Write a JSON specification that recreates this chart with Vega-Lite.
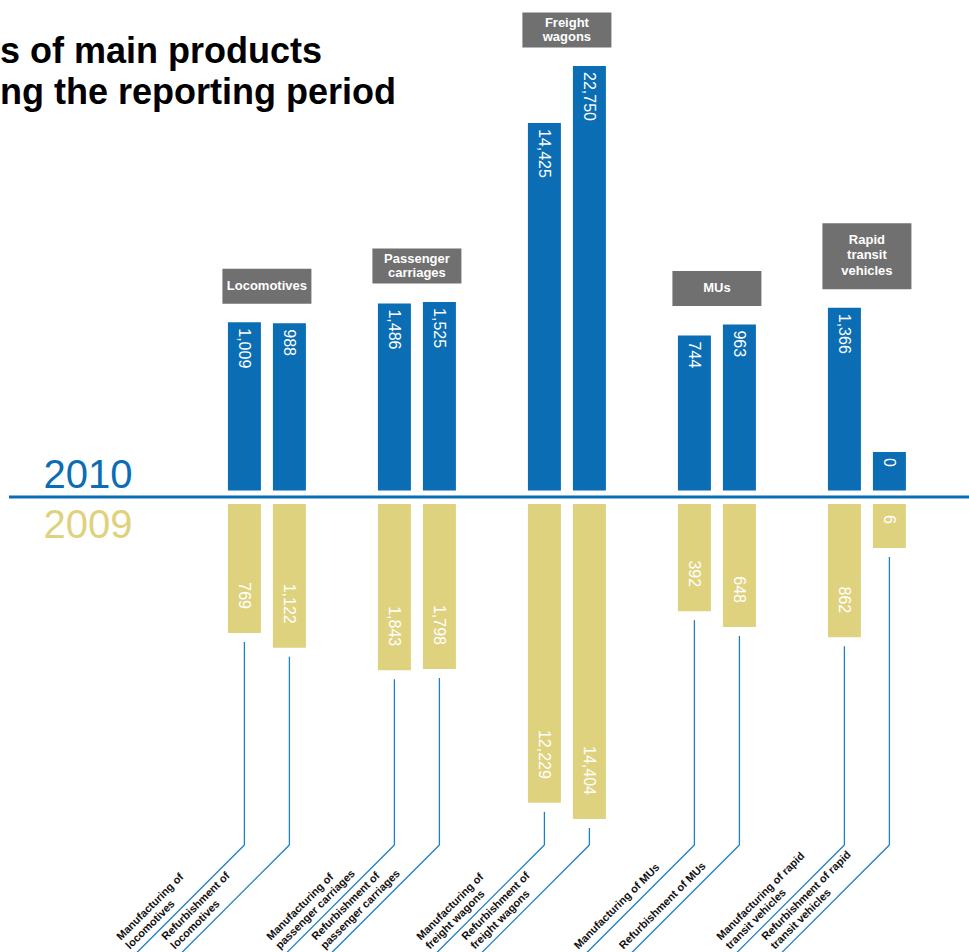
{
  "$schema": "https://vega.github.io/schema/vega-lite/v6.json",
  "autosize": {"type": "pad"},
  "padding": {"left": 0, "top": 12, "right": 0, "bottom": 0},
  "background": "white",
  "config": {"view": {"stroke": null}, "font": "Liberation Sans", "axis": {"grid": false}},
  "title": {
    "text": ["s of main products", "ng the reporting period"],
    "anchor": "start", "frame": "group", "fontSize": 36, "fontWeight": "bold",
    "color": "#000000", "dx": -9, "dy": 103, "lineHeight": 41, "font": "Liberation Sans"
  },
  "datasets": {
    "rows": [
      {"group": "Locomotives", "type": "Manufacturing", "v2010": 1009, "v2009": 769, "label": ["Manufacturing of", "locomotives"], "groupLabel": ["Locomotives"]},
      {"group": "Locomotives", "type": "Refurbishment", "v2010": 988, "v2009": 1122, "label": ["Refurbishment of", "locomotives"], "groupLabel": ["Locomotives"]},
      {"group": "Passenger carriages", "type": "Manufacturing", "v2010": 1486, "v2009": 1843, "label": ["Manufacturing of", "passenger carriages"], "groupLabel": ["Passenger", "carriages"]},
      {"group": "Passenger carriages", "type": "Refurbishment", "v2010": 1525, "v2009": 1798, "label": ["Refurbishment of", "passenger carriages"], "groupLabel": ["Passenger", "carriages"]},
      {"group": "Freight wagons", "type": "Manufacturing", "v2010": 14425, "v2009": 12229, "label": ["Manufacturing of", "freight wagons"], "groupLabel": ["Freight", "wagons"]},
      {"group": "Freight wagons", "type": "Refurbishment", "v2010": 22750, "v2009": 14404, "label": ["Refurbishment of", "freight wagons"], "groupLabel": ["Freight", "wagons"]},
      {"group": "MUs", "type": "Manufacturing", "v2010": 744, "v2009": 392, "label": ["Manufacturing of MUs"], "groupLabel": ["MUs"]},
      {"group": "MUs", "type": "Refurbishment", "v2010": 963, "v2009": 648, "label": ["Refurbishment of MUs"], "groupLabel": ["MUs"]},
      {"group": "Rapid transit vehicles", "type": "Manufacturing", "v2010": 1366, "v2009": 862, "label": ["Manufacturing of rapid", "transit vehicles"], "groupLabel": ["Rapid", "transit", "vehicles"]},
      {"group": "Rapid transit vehicles", "type": "Refurbishment", "v2010": 0, "v2009": 6, "label": ["Refurbishment of rapid", "transit vehicles"], "groupLabel": ["Rapid", "transit", "vehicles"]}
    ]
  },
  "spacing": 77,
  "bounds": "flush",
  "resolve": {"scale": {"x": "independent", "xOffset": "independent", "y": "independent"}},
  "vconcat": [
    {
      "width": 960,
      "height": 386,
      "data": {"name": "rows"},
      "layer": [
        {
          "mark": {"type": "bar", "color": "#0b6db4", "y2Offset": 38.5},
          "encoding": {
            "x": {"field": "group", "type": "nominal", "sort": ["Locomotives", "Passenger carriages", "Freight wagons", "MUs", "Rapid transit vehicles"], "scale": {"paddingInner": 0, "paddingOuter": 0.7, "align": 0.871}, "axis": null},
            "xOffset": {"field": "type", "type": "nominal", "sort": ["Manufacturing", "Refurbishment"], "scale": {"paddingInner": 0.2667, "paddingOuter": 0.8}},
            "y": {"field": "v2010", "type": "quantitative", "scale": {"type": "pow", "exponent": 0.35, "domain": [0, 22750], "nice": false},
              "axis": {"title": "2010", "domain": false, "ticks": false, "labels": false, "grid": false, "titleAngle": 0, "titleAlign": "left", "titleBaseline": "alphabetic", "titleX": 34, "titleY": 421, "titleFontSize": 40, "titleFontWeight": "normal", "titleColor": "#0b6db4", "titleFont": "Liberation Sans"}},
            "y2": {"datum": 0}
          }
        },
        {
          "mark": {"type": "text", "angle": 90, "align": "left", "baseline": "middle", "dx": 6, "color": "white", "fontSize": 16},
          "encoding": {
            "x": {"field": "group", "type": "nominal", "sort": ["Locomotives", "Passenger carriages", "Freight wagons", "MUs", "Rapid transit vehicles"]},
            "xOffset": {"field": "type", "type": "nominal", "sort": ["Manufacturing", "Refurbishment"]},
            "y": {"field": "v2010", "type": "quantitative"},
            "text": {"field": "v2010", "type": "quantitative", "format": ",d"}
          }
        },
        {
          "transform": [
            {"joinaggregate": [{"op": "max", "field": "v2010", "as": "gmax"}], "groupby": ["group"]},
            {"filter": "datum.type === 'Manufacturing'"},
            {"calculate": "length(datum.groupLabel)", "as": "nl"}
          ],
          "encoding": {
            "x": {"field": "group", "type": "nominal", "sort": ["Locomotives", "Passenger carriages", "Freight wagons", "MUs", "Rapid transit vehicles"]},
            "y": {"field": "gmax", "type": "quantitative"}
          },
          "layer": [
            {"transform": [{"filter": "datum.nl < 3"}], "mark": {"type": "bar", "color": "#707070", "width": 89, "yOffset": -53.5, "y2Offset": -18.5}, "encoding": {"y2": {"field": "gmax"}}},
            {"transform": [{"filter": "datum.nl >= 3"}], "mark": {"type": "bar", "color": "#707070", "width": 89, "yOffset": -84.5, "y2Offset": -18.5}, "encoding": {"y2": {"field": "gmax"}}},
            {"transform": [{"filter": "datum.nl == 1"}], "mark": {"type": "text", "color": "white", "fontWeight": "bold", "fontSize": 13, "lineHeight": 15, "baseline": "middle", "yOffset": -36}, "encoding": {"text": {"field": "groupLabel"}}},
            {"transform": [{"filter": "datum.nl == 2"}], "mark": {"type": "text", "color": "white", "fontWeight": "bold", "fontSize": 13, "lineHeight": 14.5, "baseline": "middle", "yOffset": -43.5}, "encoding": {"text": {"field": "groupLabel"}}},
            {"transform": [{"filter": "datum.nl == 3"}], "mark": {"type": "text", "color": "white", "fontWeight": "bold", "fontSize": 13, "lineHeight": 15.5, "baseline": "middle", "yOffset": -68}, "encoding": {"text": {"field": "groupLabel"}}}
          ]
        }
      ]
    },
    {
      "width": 960,
      "height": 290,
      "data": {"name": "rows"},
      "layer": [
        {
          "transform": [{"filter": "datum.group === 'Locomotives' && datum.type === 'Manufacturing'"}],
          "mark": {"type": "rule", "color": "#0b6db4", "strokeWidth": 3, "yOffset": -32},
          "encoding": {"y": {"datum": 0, "type": "quantitative"}}
        },
        {
          "mark": {"type": "bar", "color": "#dfd27f", "y2Offset": -25},
          "encoding": {
            "x": {"field": "group", "type": "nominal", "sort": ["Locomotives", "Passenger carriages", "Freight wagons", "MUs", "Rapid transit vehicles"], "scale": {"paddingInner": 0, "paddingOuter": 0.7, "align": 0.871}, "axis": null},
            "xOffset": {"field": "type", "type": "nominal", "sort": ["Manufacturing", "Refurbishment"], "scale": {"paddingInner": 0.2667, "paddingOuter": 0.8}},
            "y": {"field": "v2009", "type": "quantitative", "scale": {"type": "pow", "exponent": 0.35, "domain": [0, 14404], "nice": false, "reverse": true},
              "axis": {"title": "2009", "domain": false, "ticks": false, "labels": false, "grid": false, "titleAngle": 0, "titleAlign": "left", "titleBaseline": "alphabetic", "titleX": 34, "titleY": 8, "titleFontSize": 40, "titleFontWeight": "normal", "titleColor": "#dfd27f", "titleFont": "Liberation Sans"}},
            "y2": {"datum": 0}
          }
        },
        {
          "mark": {"type": "text", "angle": 90, "align": "right", "baseline": "middle", "dx": -24, "color": "white", "fontSize": 16},
          "encoding": {
            "x": {"field": "group", "type": "nominal", "sort": ["Locomotives", "Passenger carriages", "Freight wagons", "MUs", "Rapid transit vehicles"]},
            "xOffset": {"field": "type", "type": "nominal", "sort": ["Manufacturing", "Refurbishment"]},
            "y": {"field": "v2009", "type": "quantitative"},
            "text": {"field": "v2009", "type": "quantitative", "format": ",d"}
          }
        },
        {
          "mark": {"type": "rule", "color": "#1f7fc4", "strokeWidth": 1.3, "yOffset": 9, "y2Offset": 26},
          "encoding": {
            "x": {"field": "group", "type": "nominal", "sort": ["Locomotives", "Passenger carriages", "Freight wagons", "MUs", "Rapid transit vehicles"]},
            "xOffset": {"field": "type", "type": "nominal", "sort": ["Manufacturing", "Refurbishment"]},
            "y": {"field": "v2009", "type": "quantitative"},
            "y2": {"datum": 14404}
          }
        },
        {
          "mark": {"type": "point", "shape": "M0,0L-1,1", "size": 90000, "filled": false, "stroke": "#1f7fc4", "strokeWidth": 1.3, "opacity": 1, "yOffset": 26},
          "encoding": {
            "x": {"field": "group", "type": "nominal", "sort": ["Locomotives", "Passenger carriages", "Freight wagons", "MUs", "Rapid transit vehicles"]},
            "xOffset": {"field": "type", "type": "nominal", "sort": ["Manufacturing", "Refurbishment"]},
            "y": {"datum": 14404, "type": "quantitative"}
          }
        },
        {
          "transform": [{"filter": "length(datum.label) == 2"}],
          "mark": {"type": "text", "angle": -45, "align": "left", "baseline": "alphabetic", "dx": -155, "dy": -19.5, "fontSize": 11, "fontWeight": "bold", "color": "#111111", "lineHeight": 12.7, "yOffset": 26},
          "encoding": {
            "x": {"field": "group", "type": "nominal", "sort": ["Locomotives", "Passenger carriages", "Freight wagons", "MUs", "Rapid transit vehicles"]},
            "xOffset": {"field": "type", "type": "nominal", "sort": ["Manufacturing", "Refurbishment"]},
            "y": {"datum": 14404, "type": "quantitative"},
            "text": {"field": "label"}
          }
        },
        {
          "transform": [{"filter": "length(datum.label) == 1"}],
          "mark": {"type": "text", "angle": -45, "align": "left", "baseline": "alphabetic", "dx": -156, "dy": -8, "fontSize": 11, "fontWeight": "bold", "color": "#111111", "lineHeight": 12.7, "yOffset": 26},
          "encoding": {
            "x": {"field": "group", "type": "nominal", "sort": ["Locomotives", "Passenger carriages", "Freight wagons", "MUs", "Rapid transit vehicles"]},
            "xOffset": {"field": "type", "type": "nominal", "sort": ["Manufacturing", "Refurbishment"]},
            "y": {"datum": 14404, "type": "quantitative"},
            "text": {"field": "label"}
          }
        }
      ]
    }
  ]
}
